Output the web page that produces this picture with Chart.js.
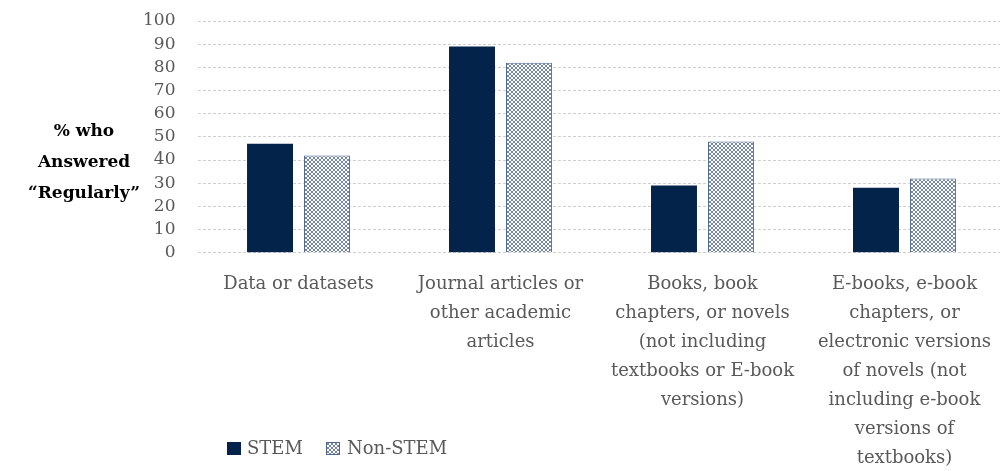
<!DOCTYPE html>
<html>
<head>
<meta charset="utf-8">
<script src="https://cdn.jsdelivr.net/npm/chart.js@4.4.0/dist/chart.umd.min.js"></script>
<style>
  html, body { margin: 0; padding: 0; background: #fff; overflow: hidden; }
  #wrap { width: 1008px; height: 471px; }
</style>
</head>
<body>
<div id="wrap"><canvas id="c" width="1008" height="471"></canvas></div>
<script>
const categories = [
  ["Data or datasets"],
  ["Journal articles or", "other academic", "articles"],
  ["Books, book", "chapters, or novels", "(not including", "textbooks or E-book", "versions)"],
  ["E-books, e-book", "chapters, or", "electronic versions", "of novels (not", "including e-book", "versions of", "textbooks)"]
];
const seriesNames = ["STEM", "Non-STEM"];
const stemValues = [47, 89, 29, 28];
const nonStemValues = [42, 82, 48, 32];
const yTicks = [0, 10, 20, 30, 40, 50, 60, 70, 80, 90, 100];
const yTitleLines = ["% who", "Answered", "\u201cRegularly\u201d"];

const NAVY = '#03234b';
const HATCH = '#7386a8';
const HATCH_BORDER = '#4f6a92';
const TXT = '#595959';
const FONT = "'DejaVu Serif', serif";

function makePattern() {
  const p = document.createElement('canvas');
  p.width = 4; p.height = 4;
  const g = p.getContext('2d');
  g.fillStyle = '#ffffff';
  g.fillRect(0, 0, 4, 4);
  g.fillStyle = HATCH;
  [[0,0],[1,1],[2,2],[3,3],[3,0],[2,1],[1,2],[0,3]].forEach(([x,y]) => g.fillRect(x, y, 1, 1));
  return document.getElementById('c').getContext('2d').createPattern(p, 'repeat');
}
const hatch = makePattern();

const extras = {
  id: 'extras',
  afterDraw(chart) {
    const ctx = chart.ctx;
    ctx.save();
    ctx.font = "bold 17px " + FONT;
    ctx.fillStyle = '#000';
    ctx.textAlign = 'center';
    ctx.textBaseline = 'middle';
    const ys = [132, 163, 194];
    yTitleLines.forEach((t, i) => ctx.fillText(t, 84, ys[i]));
    ctx.fillStyle = NAVY;
    ctx.fillRect(227, 442, 14, 13);
    ctx.fillStyle = hatch;
    ctx.fillRect(326, 442, 14, 13);
    ctx.strokeStyle = HATCH_BORDER;
    ctx.lineWidth = 1;
    ctx.strokeRect(326.5, 442.5, 13, 12);
    ctx.font = "18px " + FONT;
    ctx.fillStyle = TXT;
    ctx.textAlign = 'left';
    ctx.fillText(seriesNames[0], 247, 449);
    ctx.fillText(seriesNames[1], 347, 449);
    ctx.restore();
  }
};

new Chart(document.getElementById('c'), {
  type: 'bar',
  data: {
    labels: categories,
    datasets: [
      { label: seriesNames[0], data: stemValues, backgroundColor: NAVY, borderColor: NAVY, borderWidth: 0 },
      { label: seriesNames[1], data: nonStemValues, backgroundColor: hatch, borderColor: HATCH_BORDER, borderWidth: 1 }
    ]
  },
  options: {
    responsive: false,
    animation: false,
    devicePixelRatio: 1,
    layout: { padding: { top: 21, left: 0, right: 0, bottom: 0 } },
    plugins: { legend: { display: false }, tooltip: { enabled: false } },
    datasets: { bar: { barPercentage: 0.807, categoryPercentage: 0.564 } },
    scales: {
      x: {
        grid: { display: false, drawTicks: false },
        border: { display: false },
        ticks: {
          color: TXT,
          font: { family: FONT, size: 18, lineHeight: '29px' },
          padding: 17,
          maxRotation: 0,
          autoSkip: false
        },
        afterFit(s) { s.height = 218.3; }
      },
      y: {
        min: 0, max: 100,
        afterBuildTicks(s) { s.ticks = yTicks.map(v => ({ value: v })); },
        grid: { color: '#cfcfcf', drawTicks: false, lineWidth: 1 },
        border: { display: false, dash: [3, 2] },
        ticks: {
          color: TXT,
          font: { family: FONT, size: 17 },
          padding: 22,
          autoSkip: false,
          stepSize: 10
        },
        afterFit(s) { s.width = 197.5; s.paddingTop = 0; s.paddingBottom = 0; }
      }
    }
  },
  plugins: [extras]
});
</script>
</body>
</html>
